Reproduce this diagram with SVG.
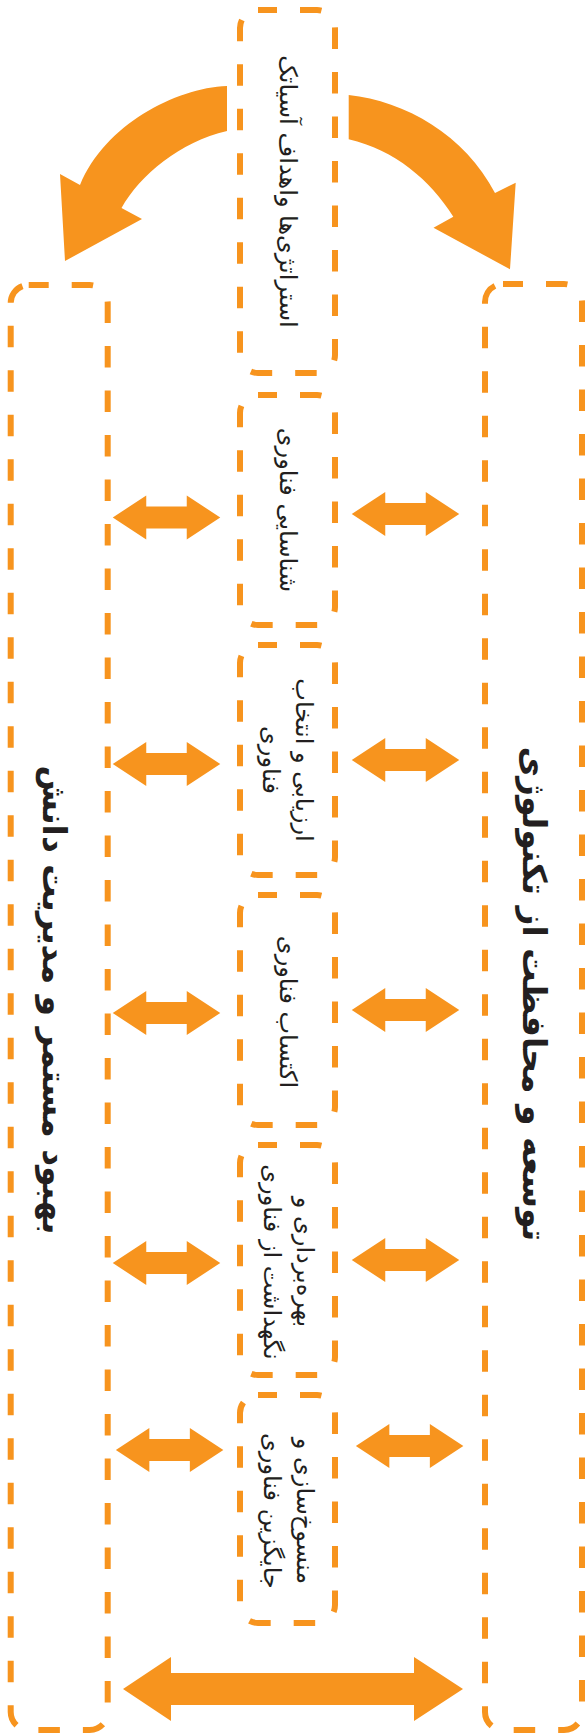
<svg xmlns="http://www.w3.org/2000/svg" xmlns:xlink="http://www.w3.org/1999/xlink" width="586" height="1734" viewBox="0 0 586 1734">
<style>
.box{fill:#fff;stroke:#F7941E;stroke-width:6;stroke-dasharray:21.5 23;}
.col{fill:none;stroke:#F7941E;stroke-width:6;stroke-dasharray:21.5 23;}
.arr{fill:#F7941E;}
.t{font-family:"DejaVu Sans",sans-serif;font-size:24px;fill:#231F20;text-anchor:middle;}
.title{font-size:33px;font-weight:bold;}
</style>
<defs>
<path id="dbl" d="M-53.75,0 L-20.25,-22 L-20.25,-11 L20.25,-11 L20.25,-22 L53.75,0 L20.25,22 L20.25,11 L-20.25,11 L-20.25,22 Z"/>
</defs>
<rect width="586" height="1734" fill="#fff"/>
<g id="col-left">
<rect class="col" x="10.7" y="285" width="97" height="1445" rx="18" stroke-dashoffset="1.5"/>
<text class="t title" transform="translate(55,1000) rotate(90)" dy="0.35em">بهبود مستمر و مدیریت دانش</text>
</g>
<g id="col-right">
<rect class="col" x="485" y="284" width="97" height="1446" rx="18" stroke-dashoffset="1.5"/>
<text class="t title" transform="translate(535,994) rotate(90)" dy="0.35em">توسعه و محافظت از تکنولوژی</text>
</g>
<g id="n-strategy">
<rect class="box" x="240" y="10" width="95" height="363" rx="18" stroke-dashoffset="2.5"/>
<text class="t" transform="translate(287.5,191.5) rotate(90)" dy="0.3em">استراتژی‌ها واهداف آسیاتک</text>
</g>
<g id="n-identify">
<rect class="box" x="240" y="395" width="95" height="230" rx="18" stroke-dashoffset="2.5"/>
<text class="t" transform="translate(287.5,510) rotate(90)" dy="0.3em">شناسایی فناوری</text>
</g>
<g id="n-evaluate">
<rect class="box" x="240" y="645" width="95" height="230" rx="18" stroke-dashoffset="2.5"/>
<text class="t" transform="translate(287.5,760) rotate(90)"><tspan x="0" y="-8.3">ارزیابی و انتخاب</tspan><tspan x="0" y="24.7">فناوری</tspan></text>
</g>
<g id="n-acquire">
<rect class="box" x="240" y="895" width="95" height="230" rx="18" stroke-dashoffset="2.5"/>
<text class="t" transform="translate(287.5,1012) rotate(90)" dy="0.3em">اکتساب فناوری</text>
</g>
<g id="n-exploit">
<rect class="box" x="240" y="1145" width="95" height="230" rx="18" stroke-dashoffset="2.5"/>
<text class="t" transform="translate(287.5,1262) rotate(90)"><tspan x="0" y="-9.3">بهره‌برداری و</tspan><tspan x="0" y="23.7">نگهداشت از فناوری</tspan></text>
</g>
<g id="n-replace">
<rect class="box" x="240" y="1395" width="95" height="228" rx="18" stroke-dashoffset="2.5"/>
<text class="t" transform="translate(287.5,1511) rotate(90)"><tspan x="0" y="-9.3">منسوخ‌سازی و</tspan><tspan x="0" y="23.7">جایگزین فناوری</tspan></text>
</g>
<g id="connectors" class="arr">
<path d="M227,86 C175,88 105,125 80,185 L60,174 L65,261 L142,219 L121.5,208 C140,175 180,142 227,131 Z"/>
<path d="M348.7,95 C405,101 465,135 495,193 L515.7,182.7 L510,269.3 L433.5,227.7 L453.3,216.7 C430,180 395,150 348.7,139.3 Z"/>
<use xlink:href="#dbl" x="166.5" y="517.5"/>
<use xlink:href="#dbl" x="405.5" y="514"/>
<use xlink:href="#dbl" x="166.5" y="764"/>
<use xlink:href="#dbl" x="405.5" y="760"/>
<use xlink:href="#dbl" x="166.5" y="1013"/>
<use xlink:href="#dbl" x="405.5" y="1010"/>
<use xlink:href="#dbl" x="166.5" y="1263"/>
<use xlink:href="#dbl" x="405.5" y="1260"/>
<use xlink:href="#dbl" x="169.6" y="1450"/>
<use xlink:href="#dbl" x="409.6" y="1446"/>
<path d="M123,1689 L171,1657 L171,1673 L414,1673 L414,1657 L463,1689 L414,1721 L414,1705 L171,1705 L171,1721 Z"/>
</g>
</svg>
